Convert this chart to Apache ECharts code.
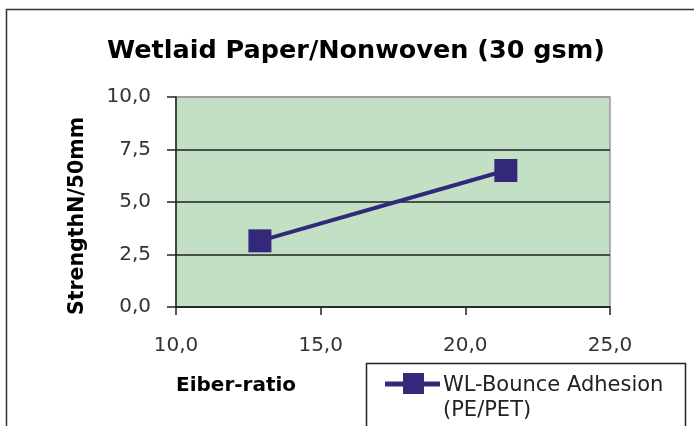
<!DOCTYPE html>
<html><head><meta charset="utf-8">
<script src="https://cdn.jsdelivr.net/npm/echarts@6/dist/echarts.min.js"></script>
<style>html,body{margin:0;padding:0;background:#fff}#c{width:694px;height:426px}</style>
</head><body><div id="c"></div>
<script>
var titleText = 'Wetlaid Paper/Nonwoven (30 gsm)';
var xAxisName = 'Eiber-ratio';
var yAxisName = 'StrengthN/50mm';
var seriesName = 'WL-Bounce Adhesion\n(PE/PET)';
var fiberRatio = [12.9, 21.4];
var strength = [3.15, 6.5];

var fmt = function (v) { return v.toFixed(1).replace('.', ','); };
var chart = echarts.init(document.getElementById('c'), null, {renderer: 'canvas'});
var font = 'DejaVu Sans, sans-serif';
chart.setOption({
  backgroundColor: '#fff',
  animation: false,
  title: {
    text: titleText, left: 351, top: 33, textAlign: 'center',
    textStyle: {fontFamily: font, fontSize: 25.5, fontWeight: 'bold', color: '#000'}
  },
  graphic: [
    {type: 'rect', shape: {x: 6.5, y: 9.5, width: 720, height: 440}, style: {fill: 'none', stroke: '#333', lineWidth: 1.5}, z: -1},
    {type: 'rect', shape: {x: 366.5, y: 363.5, width: 319, height: 100}, style: {fill: '#fff', stroke: '#222', lineWidth: 1.5}, z: 5},
    {type: 'line', shape: {x1: 385, y1: 384, x2: 440, y2: 384}, style: {stroke: '#33297a', lineWidth: 5}, z: 6},
    {type: 'rect', shape: {x: 403, y: 373, width: 21, height: 21}, style: {fill: '#33297a'}, z: 6},
    {type: 'text', x: 443, y: 373, style: {text: seriesName, font: '21px ' + font, fill: '#222', lineHeight: 25}, z: 6}
  ],
  grid: {left: 176, right: 84, top: 97, bottom: 119, show: true, backgroundColor: '#c4e0c4', borderColor: '#999', borderWidth: 1.5},
  xAxis: {
    type: 'value', min: 10, max: 25, interval: 5,
    name: xAxisName, nameLocation: 'start', nameGap: 0,
    nameTextStyle: {fontFamily: font, fontSize: 20, fontWeight: 'bold', color: '#000', align: 'left', verticalAlign: 'top', padding: [69, 0, 0, 0]},
    axisLine: {show: true, lineStyle: {color: '#222', width: 1.5}},
    axisTick: {show: true, length: 8, lineStyle: {color: '#222', width: 1.5}},
    axisLabel: {fontFamily: font, fontSize: 20, color: '#333', margin: 29, formatter: fmt},
    splitLine: {show: false}
  },
  yAxis: {
    type: 'value', min: 0, max: 10, interval: 2.5,
    name: yAxisName, nameLocation: 'middle', nameGap: 88, nameRotate: 90,
    nameTextStyle: {fontFamily: font, fontSize: 20.5, fontWeight: 'bold', color: '#000', padding: [0, 28, 0, 0]},
    axisLine: {show: true, lineStyle: {color: '#222', width: 1.5}},
    axisTick: {show: true, length: 9, lineStyle: {color: '#222', width: 1.5}},
    axisLabel: {fontFamily: font, fontSize: 20, color: '#333', margin: 25, formatter: fmt},
    splitLine: {show: true, lineStyle: {color: ['#222', '#222', '#222', '#222', '#999'], width: 1.5}}
  },
  series: [{
    type: 'line', name: seriesName,
    data: fiberRatio.map(function (x, i) { return [x, strength[i]]; }),
    symbol: 'rect', symbolSize: 23,
    lineStyle: {color: '#33297a', width: 4},
    itemStyle: {color: '#33297a'}
  }]
});
</script></body></html>
